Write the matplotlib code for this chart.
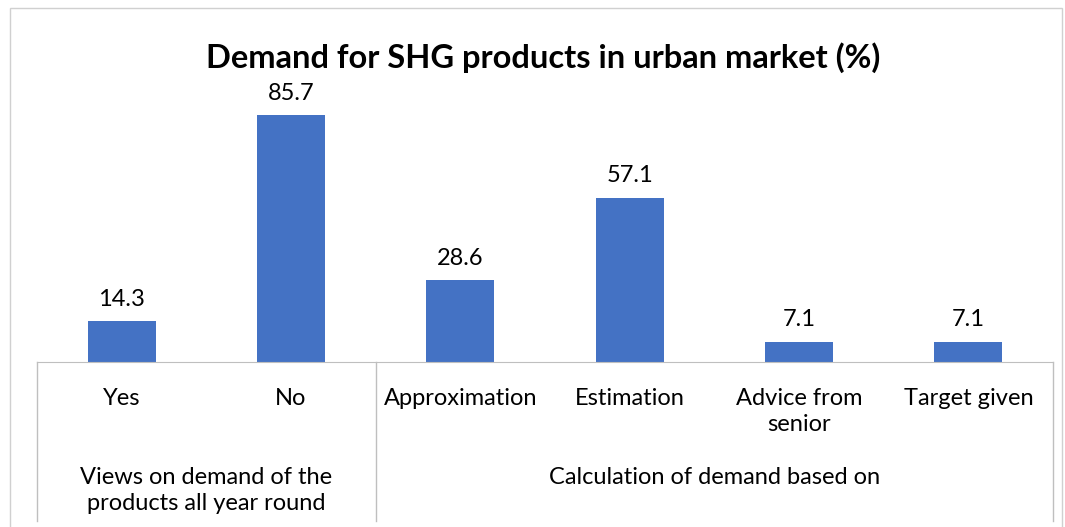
import matplotlib

matplotlib.use("Agg")
import matplotlib.pyplot as plt
from matplotlib.patches import Rectangle
from matplotlib.lines import Line2D

categories = ["Yes", "No", "Approximation", "Estimation", "Advice from\nsenior", "Target given"]
values = [14.3, 85.7, 28.6, 57.1, 7.1, 7.1]
groups = ["Views on demand of the\nproducts all year round", "Calculation of demand based on"]
group_sizes = [2, 4]

W, H = 1065, 527
BLUE = "#4472C4"
GRID = "#BFBFBF"

plt.rcParams["font.family"] = ["Lato", "DejaVu Sans"]

fig = plt.figure(figsize=(W / 100, H / 100), dpi=100)

# chart area border
fig.patches.append(
    Rectangle((10 / W, -0.1), 1052 / W, (H - 8) / H + 0.1, transform=fig.transFigure,
              fill=False, edgecolor="#D0D0D0", lw=1.0)
)

ax_left, ax_right, ax_base, ax_top = 37, 1053, 362, 74
ax = fig.add_axes([ax_left / W, (H - ax_base) / H, (ax_right - ax_left) / W, (ax_base - ax_top) / H])

x = list(range(len(categories)))
ax.bar(x, values, width=0.4, color=BLUE)
ax.set_xlim(-0.5, len(categories) - 0.5)
ax.set_ylim(0, 100)
for s in ["top", "left", "right"]:
    ax.spines[s].set_visible(False)
ax.spines["bottom"].set_color(GRID)
ax.set_xticks([])
ax.set_yticks([])

FS = 17
for xi, v in zip(x, values):
    ax.annotate(f"{v}", (xi, v), xytext=(0, 8), textcoords="offset points",
                ha="center", va="bottom", fontsize=FS)


def fy(ypix):
    return (H - ypix) / H


# category labels
slot = (ax_right - ax_left) / len(categories)
for xi, c in zip(x, categories):
    xf = (ax_left + (xi + 0.5) * slot) / W
    fig.text(xf, fy(388), c, ha="center", va="top", fontsize=FS, linespacing=1.27)

# group labels and separators
start = 0
edges = [ax_left]
for g, n in zip(groups, group_sizes):
    xf = (ax_left + (start + n / 2) * slot) / W
    fig.text(xf, fy(467), g, ha="center", va="top", fontsize=FS, linespacing=1.27)
    start += n
    edges.append(ax_left + start * slot)

for e in edges:
    fig.lines.append(Line2D([e / W, e / W], [fy(362), fy(521)], transform=fig.transFigure,
                            color=GRID, lw=1.0))

fig.text(543 / W, fy(58), "Demand for SHG products in urban market (%)", ha="center", va="center",
         fontsize=23.5, fontweight="bold")

fig.savefig("out.png", dpi=100)
